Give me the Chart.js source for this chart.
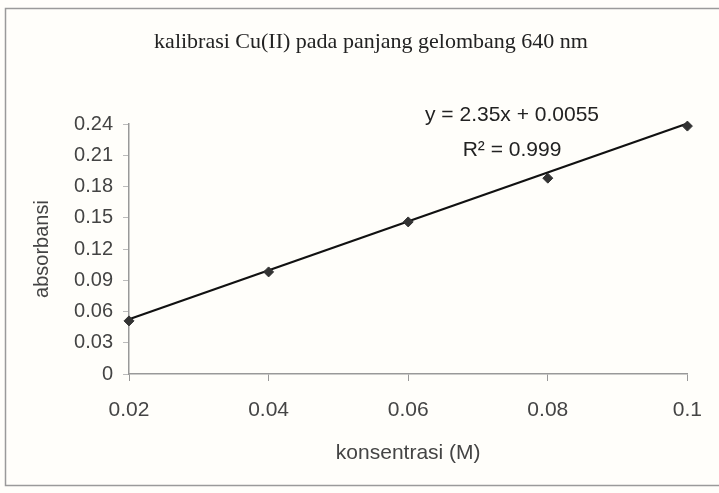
<!DOCTYPE html>
<html><head><meta charset="utf-8">
<script src="https://cdn.jsdelivr.net/npm/chart.js@4"></script>
<style>html,body{margin:0;padding:0;background:#fff;}#wrap{width:719px;height:493px;}</style>
</head><body><div id="wrap"><canvas id="c" width="719" height="493"></canvas></div>
<script>
const konsentrasi = [0.02, 0.04, 0.06, 0.08, 0.1];
const absorbansi = [0.051, 0.098, 0.146, 0.188, 0.238];
const trendX = [0.02, 0.1];
const trendY = [0.0525, 0.2405];
const yTicks = [0, 0.03, 0.06, 0.09, 0.12, 0.15, 0.18, 0.21, 0.24];
const xTicks = [0.02, 0.04, 0.06, 0.08, 0.1];
const chartTitle = "kalibrasi Cu(II) pada panjang gelombang 640 nm";
const equationText = "y = 2.35x + 0.0055";
const r2Text = "R² = 0.999";

const yFont = {family: "'Liberation Sans', Arial, sans-serif", size: 20};
const xFont = {family: "'Liberation Sans', Arial, sans-serif", size: 21};

const deco = {
  id: 'deco',
  beforeDraw(chart) {
    const ctx = chart.ctx;
    ctx.save();
    ctx.fillStyle = '#fffefa';
    ctx.fillRect(0, 0, chart.width, chart.height);
    ctx.strokeStyle = '#9a9a9a';
    ctx.lineWidth = 1.5;
    ctx.beginPath();
    ctx.moveTo(719, 8.5); ctx.lineTo(5.5, 8.5); ctx.lineTo(5.5, 485.5); ctx.lineTo(719, 485.5);
    ctx.stroke();
    ctx.restore();
  },
  afterDatasetsDraw(chart) {
    const ctx = chart.ctx;
    ctx.save();
    ctx.fillStyle = '#222';
    ctx.textAlign = 'center';
    ctx.textBaseline = 'alphabetic';
    ctx.font = "22px 'Liberation Serif', 'Times New Roman', serif";
    ctx.fillText(chartTitle, 371, 48);
    ctx.textBaseline = 'middle';
    ctx.font = "21px 'Liberation Sans', Arial, sans-serif";
    ctx.fillText(equationText, 512, 115);
    ctx.fillText(r2Text, 512, 150);
    ctx.restore();
  }
};

new Chart(document.getElementById('c'), {
  type: 'scatter',
  data: {
    datasets: [
      {
        label: 'trend',
        data: trendX.map((x, i) => ({x, y: trendY[i]})),
        showLine: true,
        borderColor: '#111',
        borderWidth: 2.2,
        pointRadius: 0,
        clip: false,
        order: 2
      },
      {
        label: 'absorbansi',
        data: konsentrasi.map((x, i) => ({x, y: absorbansi[i]})),
        pointStyle: 'rectRot',
        pointRadius: 5,
        backgroundColor: '#333',
        borderColor: '#333',
        clip: false,
        order: 1
      }
    ]
  },
  options: {
    responsive: false,
    animation: false,
    layout: {padding: {left: 0, right: 15, top: 124, bottom: 0}},
    plugins: {
      legend: {display: false},
      tooltip: {enabled: false},
      title: {display: false}
    },
    scales: {
      x: {
        type: 'linear',
        min: 0.02, max: 0.1,
        afterBuildTicks: s => { s.ticks = xTicks.map(v => ({value: v})); },
        afterFit: s => { s.height = 119; },
        grid: {drawOnChartArea: false, tickLength: 7, color: '#999'},
        border: {color: '#999', width: 1.5},
        ticks: {color: '#444', font: xFont, padding: 17, callback: v => String(v)},
        title: {display: true, text: 'konsentrasi (M)', color: '#444', font: xFont, padding: {top: 4, bottom: 27}}
      },
      y: {
        min: 0, max: 0.24,
        afterBuildTicks: s => { s.ticks = yTicks.map(v => ({value: v})); },
        afterFit: s => { s.width = 129; },
        grid: {drawOnChartArea: false, tickLength: 6, color: '#bbb'},
        border: {color: '#999', width: 1.5},
        ticks: {color: '#444', font: yFont, padding: 10, callback: v => String(v)},
        title: {display: true, text: 'absorbansi', color: '#444', font: yFont, padding: {top: 30, bottom: 0}}
      }
    }
  },
  plugins: [deco]
});
</script>
</body></html>
